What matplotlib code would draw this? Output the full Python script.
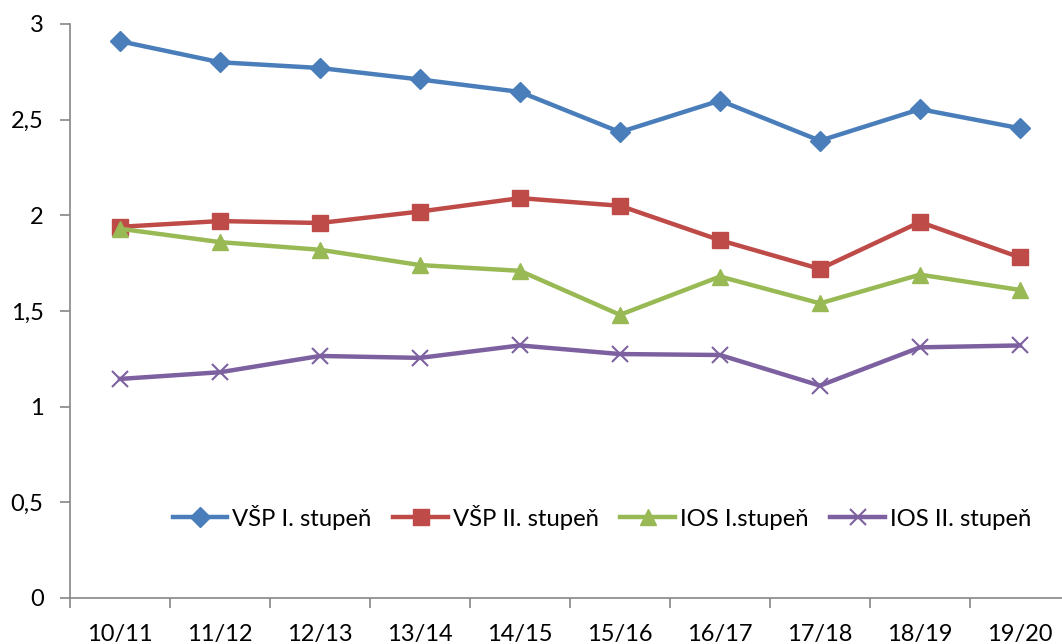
import matplotlib
matplotlib.use("Agg")
import matplotlib.pyplot as plt

categories = ["10/11", "11/12", "12/13", "13/14", "14/15", "15/16", "16/17", "17/18", "18/19", "19/20"]
vsp1 = [2.91, 2.80, 2.77, 2.71, 2.645, 2.435, 2.60, 2.39, 2.555, 2.455]
vsp2 = [1.94, 1.97, 1.96, 2.02, 2.09, 2.05, 1.87, 1.72, 1.965, 1.78]
ios1 = [1.93, 1.86, 1.82, 1.74, 1.71, 1.48, 1.68, 1.54, 1.69, 1.61]
ios2 = [1.145, 1.18, 1.265, 1.255, 1.32, 1.275, 1.27, 1.11, 1.31, 1.32]
yticks = [0, 0.5, 1, 1.5, 2, 2.5, 3]
ytick_labels = ["0", "0,5", "1", "1,5", "2", "2,5", "3"]

plt.rcParams['font.family'] = ['Lato', 'DejaVu Sans']

fig = plt.figure(figsize=(10.62, 6.44), dpi=100)
W, H = 1062, 644
x0, x1 = 70, 1070
y0, y1 = 598, 24
ax = fig.add_axes([x0 / W, 1 - y0 / H, (x1 - x0) / W, (y0 - y1) / H])

x = list(range(len(categories)))
lw = 3.2
ax.plot(x, vsp1, color="#4A7EBB", lw=lw, marker="D", ms=10, label="VŠP I. stupeň")
ax.plot(x, vsp2, color="#BE4B48", lw=lw, marker="s", ms=11, label="VŠP II. stupeň")
ax.plot(x, ios1, color="#98B954", lw=lw, marker="^", ms=12, label="IOS I.stupeň")
ax.plot(x, ios2, color="#7D60A0", lw=lw, marker="x", ms=11, mew=1.5, label="IOS II. stupeň")

ax.set_xlim(-0.5, len(categories) - 0.5)
ax.set_ylim(0, 3)
ax.set_yticks(yticks)
ax.set_yticklabels(ytick_labels)
ax.set_xticks([i - 0.5 for i in range(len(categories))], minor=False)
ax.set_xticklabels([])
ax.set_xticks(x, minor=True)
ax.set_xticklabels(categories, minor=True)
ax.tick_params(axis='x', which='minor', length=0, labelsize=17, pad=19)
ax.tick_params(axis='x', which='major', length=7, color="#868686", width=1.2)
ax.tick_params(axis='y', length=7, color="#868686", width=1.2, labelsize=17, pad=12)

for s in ["top", "right"]:
    ax.spines[s].set_visible(False)
for s in ["left", "bottom"]:
    ax.spines[s].set_color("#868686")
    ax.spines[s].set_linewidth(1.2)

leg = ax.legend(loc="center left", bbox_to_anchor=(0.093, (598 - 517) / 574), ncol=4, frameon=False,
                fontsize=17.2, handlelength=2.3, columnspacing=0.9, handletextpad=0.2,
                borderaxespad=0)

fig.savefig("out.png", dpi=100)
